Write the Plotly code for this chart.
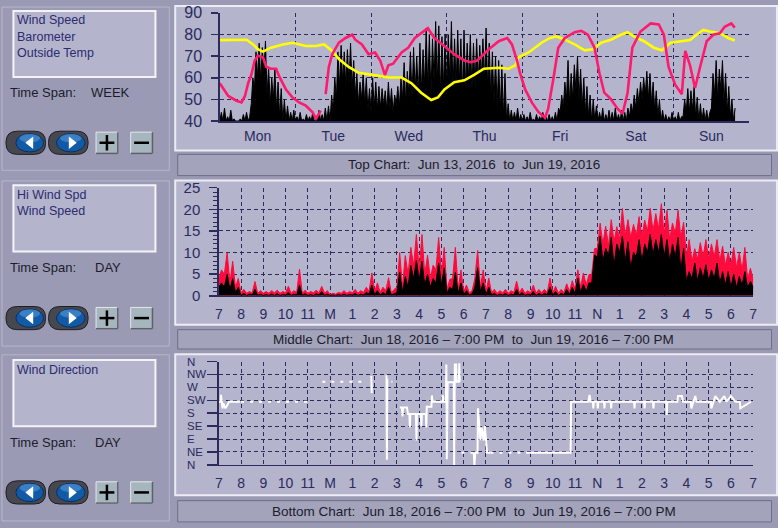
import plotly.graph_objects as go

W, H = 778, 528
def X(p): return p / W
def Y(p): return 1 - p / H

BG = "#9a9ab4"
FRAME = "#b4b4cc"
NAVY = "#2b2b5e"
FONT = "Liberation Sans"

# ---------------- Top chart (week) ----------------
day_labels = ["Mon", "Tue", "Wed", "Thu", "Fri", "Sat", "Sun"]
day_ticks = [12, 36, 60, 84, 108, 132, 156]
day_bounds = [24, 48, 72, 96, 120, 144, 168]
top_yticks = [40, 50, 60, 70, 80, 90]

baro_hours = [0, 5, 8.5, 10.6, 12.1, 13.7, 16.3, 20, 23.1, 27.3,
              30.5, 33.1, 35.7, 37.8, 40.9, 44.1, 48.2, 53.5, 57.7, 60.8,
              63.9, 67.1, 69.2, 71.3, 74.4, 77.6, 80.7, 83.8, 88.5, 91.7,
              93.8, 94.8, 98, 102.1, 104.8, 106.9, 109.5, 112.6, 115.8, 118.4,
              121, 124.1, 127.3, 129.4, 131.4, 134.6, 137.7, 140.3, 143, 146.1,
              149.2, 151.9, 153.4, 155.5, 158.7, 161.3, 163.4]
baro_vals = [77.4, 77.6, 77.6, 75.4, 73.2, 72.1, 73.9, 75.4, 76.2, 74.7,
             74.7, 75.4, 72.4, 68.7, 65, 62.3, 61.3, 60.2, 60.1, 57.5,
             53.1, 49.7, 50.9, 54.6, 57.9, 58.8, 61.3, 64.2, 64.6, 64.2,
             65.8, 69.5, 71.7, 76.2, 78.4, 79.1, 77.6, 75.4, 72.7, 73.2,
             76.2, 77.6, 79.9, 81.1, 79.1, 76.9, 73.9, 72.7, 76.2, 76.9,
             77.4, 80.6, 82.1, 81.4, 80.6, 78.4, 77.2]

temp_hours = [0, 1.2, 2.7, 5.3, 6.9, 8.0, 9.0, 10.0, 11.1, 12.1,
              13.7, 14.8, 16.3, 17.9, 18.9, 21.0, 23.1, 25.2, 27.3, 29.4,
              30.5, 31.5, 32.0, None, 33.6, 34.6, 35.7, 37.8, 39.9, 42.0,
              43.0, 45.1, 47.2, 49.3, 50.9, 52.4, 53.5, 55.0, 57.7, 59.8,
              61.9, 63.9, 66.0, 68.1, 71.3, 74.4, 77.6, 79.6, 81.7, 83.8,
              85.4, 88.5, 91.2, 92.7, 94.3, 95.3, 96.9, 99.0, 101.1, 103.2,
              104.2, 105.8, 107.4, 109.5, 112.6, 114.7, 116.8, 118.9, 120.5, 122.0,
              124.1, 126.2, 127.8, 129.4, 130.9, 133.5, 136.7, 139.3, 140.9, 142.4,
              144.5, 146.6, 147.7, 149.2, 150.8, 152.4, 154.5, 156.6, 158.7, 160.2,
              162.3, 163.4]
temp_vals = [57.5, 54.6, 51.6, 49.4, 48.6, 51.6, 57.5, 61.3, 68, 70.2,
             69.5, 65, 64.2, 64.2, 60.5, 54.6, 50.9, 48.6, 47.1, 44.2,
             41.2, 43.4, 44.9, None, 52.4, 65, 70.9, 76.2, 78.4, 79.9,
             77.6, 75.4, 70.9, 71.7, 68, 61.3, 65.8, 66.5, 71.7, 73.9,
             78.4, 80.6, 82.9, 78.4, 74.7, 70.9, 68, 67.2, 68, 70.9,
             73.2, 76.9, 78.4, 75.4, 68, 62, 54.6, 48.6, 44.2, 41.5,
             45.7, 59.1, 73.9, 78.4, 81.1, 81.7, 79.9, 73.9, 62, 53.1,
             50.1, 45.7, 43.4, 53.1, 73.9, 81.4, 85.1, 84.6, 79.9, 65,
             56.8, 52.4, 72.4, 65.8, 55.3, 65, 76.9, 79.9, 80.6, 83.6,
             85.1, 83.2]

# hourly wind-speed envelope (drawn on the same 40-90 scale)
wind_hi = [44, 46, 42, 45, 41, 40, 41, 43, 44, 42, 60, 72, 76, 74, 77, 65, 60, 64, 58, 55, 50, 47, 44, 45,
           42, 44, 41, 43, 42, 44, 41, 45, 43, 46, 47, 52, 60, 72, 75, 72, 73, 76, 68, 62, 58, 62, 60, 55,
           60, 58, 56, 55, 54, 58, 55, 52, 56, 60, 67, 63, 72, 74, 70, 76, 73, 83, 80, 78, 86, 84, 79, 80,
           80, 86, 78, 82, 78, 82, 76, 80, 76, 78, 75, 78, 83, 76, 72, 70, 68, 66, 62, 48, 45, 44, 46, 43,
           43, 42, 44, 41, 43, 42, 44, 42, 43, 42, 44, 46, 52, 58, 68, 62, 66, 70, 64, 60, 56, 52, 50, 47,
           44, 46, 43, 45, 44, 46, 43, 45, 44, 46, 48, 52, 55, 58, 60, 63, 62, 58, 54, 50, 45, 43, 42, 44,
           42, 44, 42, 50, 55, 54, 56, 51, 48, 46, 45, 44, 62, 68, 64, 68, 62, 56, 50, 46]
wind_lo = [40, 40, 40, 40, 40, 40, 40, 40, 40, 40, 48, 55, 60, 58, 62, 52, 48, 50, 45, 42, 40, 40, 40, 40,
           40, 40, 40, 40, 40, 40, 40, 40, 40, 40, 40, 40, 44, 50, 55, 58, 56, 57, 55, 52, 48, 50, 48, 45,
           44, 46, 45, 46, 47, 45, 46, 44, 48, 47, 50, 48, 52, 50, 54, 52, 54, 56, 55, 52, 58, 56, 52, 55,
           55, 58, 54, 56, 57, 52, 55, 58, 54, 56, 58, 60, 58, 55, 50, 48, 46, 44, 42, 40, 40, 40, 40, 40,
           40, 40, 40, 40, 40, 40, 40, 40, 40, 40, 40, 40, 44, 46, 50, 48, 50, 54, 50, 46, 44, 42, 40, 40,
           40, 40, 40, 40, 40, 40, 40, 40, 40, 40, 42, 44, 46, 48, 50, 52, 50, 48, 45, 42, 40, 40, 40, 40,
           40, 40, 40, 42, 44, 44, 45, 42, 40, 40, 40, 40, 46, 52, 50, 54, 48, 44, 42, 40]

# ---------------- Middle chart (day) ----------------
hour_ticks = list(range(25))
hour_labels = ["7", "8", "9", "10", "11", "M", "1", "2", "3", "4", "5", "6", "7", "8", "9", "10", "11",
               "N", "1", "2", "3", "4", "5", "6", "7"]
mid_yticks = [0, 5, 10, 15, 20, 25]

# quarter-hour slots: peak and trough of each slot (trough lists carry a final end value)
hiwind_peak = [6, 10, 8, 4, 1.5, 1.0, 3.3, 1.2, 1.0, 1.2, 1.3, 1.0,
               2.2, 1.2, 6.2, 1.3, 1.0, 1.3, 2.2, 1.2, 0.6, 0.8, 1.2, 1.0,
               1.5, 1.2, 2.0, 5.3, 3.0, 2.0, 4.2, 1.5, 10, 9.3, 11.2, 14.2,
               14.2, 9.4, 7.1, 13.5, 11.2, 3.8, 11.2, 6, 2.5, 1.2, 10.5, 6,
               4.1, 1.5, 1.2, 1.5, 1.2, 3.4, 1.8, 1.2, 2.5, 1.5, 1.5, 4.1,
               2.2, 1.5, 2.8, 3.5, 6.0, 5.3, 4.9, 10.9, 16.8, 16.1, 17.6, 16,
               20.2, 17.6, 16.5, 18.3, 17.5, 20.2, 19, 21.3, 19.8, 16.8, 19.8, 17,
               13, 10.9, 12.3, 13, 12, 13, 11.5, 10.1, 11.2, 10, 11.2, 6.4]
hiwind_trough = [4, 5, 3, 2, 0.7, 0.6, 0.7, 0.6, 0.6, 0.6, 0.7, 0.6,
                 0.7, 0.6, 0.8, 0.6, 0.6, 0.7, 0.7, 0.6, 0.3, 0.4, 0.6, 0.6,
                 0.7, 0.6, 0.8, 1.0, 1.0, 0.8, 1.2, 0.7, 2, 2, 5, 7,
                 6, 5, 4, 6, 5, 1.5, 4, 1.5, 1.0, 0.7, 4, 2,
                 1.0, 0.7, 0.6, 0.7, 0.6, 0.8, 0.7, 0.6, 0.7, 0.6, 0.7, 0.8,
                 0.7, 0.6, 0.8, 1.0, 1.5, 2.0, 2.5, 5, 11, 12, 11.6, 12.5,
                 13, 13.8, 13.5, 14, 13.5, 15, 15, 15.5, 14, 13, 14.5, 13.5,
                 9, 8, 8.5, 9, 8.5, 9, 8, 7, 7, 6.5, 6, 3.8, 3.8]
wind_peak = [3, 5, 4, 2, 0.6, 0.4, 1.5, 0.4, 0.3, 0.4, 0.5, 0.3,
             0.8, 0.4, 2.5, 0.5, 0.3, 0.5, 1.0, 0.4, 0.2, 0.3, 0.4, 0.3,
             0.6, 0.4, 0.8, 2.5, 1.2, 0.8, 2.0, 0.6, 5.5, 4.5, 7, 8.2,
             8, 5, 4, 7.6, 6.5, 2, 5.5, 3, 1.2, 0.5, 6.5, 3,
             2, 0.6, 0.4, 0.6, 0.4, 1.5, 0.8, 0.4, 1.0, 0.6, 0.6, 2.0,
             1.0, 0.6, 1.5, 2.0, 4.1, 2.7, 3.0, 9.4, 13.8, 11, 13.5, 12,
             13.8, 12.5, 10.1, 13, 12, 14.2, 13, 14.2, 13, 12, 13.5, 11,
             5.6, 7.6, 6.5, 7.2, 6, 7.6, 5.6, 5.6, 5, 4.5, 5.6, 3.4]
wind_trough = [2, 2, 1.5, 0.8, 0.1, 0.1, 0.2, 0.1, 0.1, 0.1, 0.1, 0.1,
               0.2, 0.1, 0.2, 0.1, 0.1, 0.1, 0.2, 0.1, 0.1, 0.1, 0.1, 0.1,
               0.2, 0.1, 0.2, 0.4, 0.3, 0.2, 0.3, 0.2, 0.8, 0.8, 2, 4,
               3.5, 2.5, 2, 3, 2.5, 0.6, 1.5, 0.6, 0.3, 0.2, 2, 1,
               0.3, 0.2, 0.1, 0.2, 0.1, 0.2, 0.2, 0.1, 0.2, 0.1, 0.2, 0.3,
               0.2, 0.1, 0.3, 0.4, 0.5, 0.8, 1.0, 3, 9, 8, 9.4, 7,
               10, 8, 6.4, 9, 8, 10, 9.5, 10, 9, 8, 9, 6,
               3.4, 4, 3.4, 4, 3.5, 4, 3, 2.5, 2, 1.9, 2.5, 1.9, 1.9]

# ---------------- Bottom chart (wind direction, degrees) ----------------
dir_ticks = [0, 45, 90, 135, 180, 225, 270, 315, 360]
dir_labels = ["N", "NE", "E", "SE", "S", "SW", "W", "NW", "N"]
dir_t = [0, 0.08, 0.1, 0.12, 0.17, 0.2, 0.3, 0.4, 0.45, 0.95, None,
         6.85, 6.87, None,
         7.53, 7.55, 7.57, None,
         7.75, 7.8, None,
         8.13, 8.22, 8.25, 8.28, 8.45, 8.5, 8.56, 8.58, 8.6, 8.85,
         8.88, 8.9, 9.08, 9.1, 9.12, 9.3, 9.32, 9.34, 9.4, 9.55,
         9.57, 9.6, 10.04, 10.06, 10.08,
         10.2, 10.22, 10.24, 10.28, 10.55, 10.57, 10.6, 10.66, 10.68, 10.78, 10.8, 10.82, None,
         11.45, 11.48, 11.52, 11.62, 11.64, 11.7, 11.75, 11.8, 11.85, 11.9, 11.95, 12.05, 12.2, None,
         13.8, 15.8, 15.82, 16.6, 16.65, 16.7, 16.8, 16.82, 16.84, 17.0,
         17.02, 17.04, 17.3, 17.32, 17.34, 17.6, 17.62, 17.64, 18.65, 18.67,
         18.69, 19.1, 19.12, 19.14, 19.5, 19.52, 19.54, 20.1, 20.12, 20.14,
         20.6, 20.62, 20.8, 20.85, 21.2, 21.22, 21.4, 21.45, 22.1, 22.12,
         22.3, 22.5, 22.7, 22.8, 23.0, 23.2, 23.4, 23.42, 23.9]
dir_v = [220, 220, 244, 220, 197, 215, 197, 210, 220, 220, None,
         310, 250, None,
         312, 18, 300, None,
         290, 290, None,
         200, 200, 169, 200, 200, 177, 177, 130, 177, 177,
         85, 177, 177, 135, 177, 177, 130, 203, 203, 203,
         242, 220, 220, 242, 220,
         220, 350, 20, 288, 288, 0, 350, 350, 290, 290, 354, 290, None,
         42, 0, 42, 42, 197, 120, 86, 130, 110, 85, 135, 42, 42, None,
         42, 42, 220, 220, 244, 220, 220, 197, 220, 220,
         197, 220, 220, 197, 220, 220, 197, 220, 220, 197,
         220, 220, 197, 220, 220, 197, 220, 220, 174, 220,
         220, 240, 240, 220, 220, 197, 240, 220, 220, 197,
         240, 220, 240, 220, 240, 220, 220, 197, 220]
dot_t = [1.0, 4.15, None, 4.65, 6.5, None, 10.9, 11.45, None, 12.2, 13.8]
dot_v = [220, 220, None, 290, 290, None, 42, 42, None, 42, 42]


def zigzag(step, peaks, troughs):
    xs, ys = [], []
    for i, p in enumerate(peaks):
        xs += [i * step, i * step + step / 2]
        ys += [troughs[i], p]
    if len(troughs) > len(peaks):
        xs.append(len(peaks) * step)
        ys.append(troughs[-1])
    return xs, ys


fig = go.Figure()
wx, wy = zigzag(1.0, wind_hi, wind_lo)
fig.add_trace(go.Scatter(x=wx, y=wy, mode="lines", fill="tozeroy", fillcolor="black",
                         line=dict(color="black", width=1), xaxis="x", yaxis="y", hoverinfo="skip"))
fig.add_trace(go.Scatter(x=baro_hours, y=baro_vals, mode="lines", line=dict(color="#ffff00", width=2.6),
                         xaxis="x", yaxis="y", hoverinfo="skip"))
fig.add_trace(go.Scatter(x=temp_hours, y=temp_vals, mode="lines", line=dict(color="#ff1a6e", width=2.6),
                         connectgaps=False, xaxis="x", yaxis="y", hoverinfo="skip"))

rx, ry = zigzag(0.25, hiwind_peak, hiwind_trough)
bx, by = zigzag(0.25, wind_peak, wind_trough)
fig.add_trace(go.Scatter(x=rx, y=ry, mode="lines", fill="tozeroy", fillcolor="#ff0a3c",
                         line=dict(color="#ff0a3c", width=1), xaxis="x2", yaxis="y2", hoverinfo="skip"))
fig.add_trace(go.Scatter(x=bx, y=by, mode="lines", fill="tozeroy", fillcolor="black",
                         line=dict(color="black", width=1), xaxis="x2", yaxis="y2", hoverinfo="skip"))

fig.add_trace(go.Scatter(x=dot_t, y=dot_v, mode="lines", line=dict(color="white", width=2, dash="3px,6px"),
                         xaxis="x3", yaxis="y3", hoverinfo="skip"))
fig.add_trace(go.Scatter(x=dir_t, y=dir_v, mode="lines", line=dict(color="white", width=2),
                         connectgaps=False, xaxis="x3", yaxis="y3", hoverinfo="skip"))

grid = dict(gridcolor=NAVY, griddash="4px,3px", gridwidth=1)
axline = dict(showline=True, linecolor=NAVY, linewidth=1.5, zeroline=False, fixedrange=True)

# ---------------- shapes ----------------
shapes = []
def rect(x0, y0, x1, y1, fill, line="rgba(0,0,0,0)", lw=1, layer="below"):
    shapes.append(dict(type="rect", xref="paper", yref="paper", x0=X(x0), x1=X(x1), y0=Y(y1), y1=Y(y0),
                       fillcolor=fill, line=dict(color=line, width=lw), layer=layer))

def seg(x0, y0, x1, y1, color, w):
    shapes.append(dict(type="line", xref="paper", yref="paper", x0=X(x0), x1=X(x1), y0=Y(y0), y1=Y(y1),
                       line=dict(color=color, width=w), layer="above"))

def rrect_path(x0, y0, x1, y1, r):
    return (f"M {X(x0+r)},{Y(y0)} L {X(x1-r)},{Y(y0)} Q {X(x1)},{Y(y0)} {X(x1)},{Y(y0+r)} "
            f"L {X(x1)},{Y(y1-r)} Q {X(x1)},{Y(y1)} {X(x1-r)},{Y(y1)} L {X(x0+r)},{Y(y1)} "
            f"Q {X(x0)},{Y(y1)} {X(x0)},{Y(y1-r)} L {X(x0)},{Y(y0+r)} Q {X(x0)},{Y(y0)} {X(x0+r)},{Y(y0)} Z")

def poly(pts, fill):
    d = "M " + " L ".join(f"{X(a)},{Y(b)}" for a, b in pts) + " Z"
    shapes.append(dict(type="path", xref="paper", yref="paper", path=d, fillcolor=fill,
                       line=dict(width=0), layer="above"))

def ellipse(x0, y0, x1, y1, fill, line):
    shapes.append(dict(type="circle", xref="paper", yref="paper", x0=X(x0), x1=X(x1), y0=Y(y1), y1=Y(y0),
                       fillcolor=fill, line=dict(color=line, width=1), layer="above"))

# left panels
for (y0, y1) in [(-2, 167), (178, 349), (358, 530)]:
    rect(-2, y0, 167, y1, BG, "#b6b6ca", 1)
# legend boxes
for (y0, y1) in [(2, 70.5), (182.5, 251), (363.5, 432)]:
    rect(9.5, y0, 153, y1, FRAME, "#f4f4f8", 2)
# chart frames
for (y0, y1) in [(-3, 146.5), (177.5, 327), (357.5, 503.5)]:
    rect(173, y0, 781, y1, FRAME, "#ececf4", 2)
# caption bars
for (y0, y1) in [(150.5, 172.5), (332, 352), (509, 531)]:
    rect(175.5, y0, 775.5, y1, "#a3a3bb", "#6e6e86", 1)

# buttons
for cy in [138.5, 320, 500.5]:
    for (px0, ex0, ex1, left) in [(2, 12, 40, True), (45, 53, 82, False)]:
        shapes.append(dict(type="path", xref="paper", yref="paper",
                           path=rrect_path(px0, cy - 12, px0 + 40, cy + 12, 11.5),
                           fillcolor="#474750", line=dict(color="#1e1e24", width=1), layer="above"))
        ellipse(ex0, cy - 9.5, ex1, cy + 9.5, "#125aa6", "#08305e")
        ellipse(ex0 + 4, cy - 8.5, ex1 - 4, cy - 1, "#3b7fc6", "#3b7fc6")
        if left:
            poly([(21.5, cy), (29.5, cy - 6.5), (29.5, cy + 6.5)], "white")
        else:
            poly([(73.5, cy), (65.5, cy - 6.5), (65.5, cy + 6.5)], "white")
    for bx0 in [93, 128]:
        rect(bx0, cy - 11, bx0 + 22, cy + 11, "#a6b6be", "#e6e6ea", 1, layer="above")
        seg(bx0 + 22, cy - 11, bx0 + 22, cy + 11, "#5e6068", 1.5)
        seg(bx0, cy + 11, bx0 + 22, cy + 11, "#5e6068", 1.5)
    seg(96.5, cy, 111.5, cy, "black", 2.5)
    seg(104, cy - 8, 104, cy + 8, "black", 2.5)
    seg(131.5, cy, 146.5, cy, "black", 2.5)

# ---------------- annotations ----------------
ann = []
def text(x, y, s, size=13, color="#1c1c2c", xanchor="left", **kw):
    ann.append(dict(x=X(x), y=Y(y), xref="paper", yref="paper", text=s, showarrow=False,
                    xanchor=xanchor, yanchor="middle", font=dict(family=FONT, size=size, color=color), **kw))

legend_color = "#2c2c70"
for s, yy in [("Wind Speed", 11.7), ("Barometer", 29), ("Outside Temp", 45.7),
              ("Hi Wind Spd", 192.3), ("Wind Speed", 209.3), ("Wind Direction", 373.3)]:
    text(11, yy, s, size=12.5, color=legend_color)
for yy, span, sx in [(86.7, "WEEK", 85.5), (267.7, "DAY", 90), (448.3, "DAY", 90)]:
    text(4, yy, "Time Span:", size=13)
    text(sx, yy, span, size=13)

sp = "\u00a0\u00a0"
text(474.5, 161.5, f"Top Chart:{sp}Jun 13, 2016{sp}to{sp}Jun 19, 2016", size=13.5, xanchor="center")
text(474.5, 342.5, f"Middle Chart:{sp}Jun 18, 2016 \u2013 7:00 PM{sp}to{sp}Jun 19, 2016 \u2013 7:00 PM",
     size=13.5, xanchor="center")
text(474.5, 520.5, f"Bottom Chart:{sp}Jun 18, 2016 \u2013 7:00 PM{sp}to{sp}Jun 19, 2016 \u2013 7:00 PM",
     size=13.5, xanchor="center")

for v, lab in zip(dir_ticks, dir_labels):
    ann.append(dict(x=X(183), y=v, xref="paper", yref="y3", text=lab, showarrow=False,
                    xanchor="left", yanchor="middle", font=dict(family=FONT, size=11.5, color=NAVY)))

fig.update_layout(
    width=W, height=H, autosize=False, margin=dict(l=0, r=0, t=0, b=0),
    paper_bgcolor=BG, plot_bgcolor=FRAME, showlegend=False,
    font=dict(family=FONT, color=NAVY),
    xaxis=dict(domain=[X(218), X(753)], range=[0, 168], anchor="y", tickmode="array",
               tickvals=day_ticks, ticktext=day_labels, ticks="", showgrid=False,
               tickfont=dict(family=FONT, size=14, color=NAVY), ticklabelstandoff=2,
               minor=dict(tickmode="array", tickvals=day_bounds, showgrid=True, ticks="", **grid),
               **axline),
    yaxis=dict(domain=[Y(116), Y(4)], range=[40, 90], anchor="x", tickmode="array", tickvals=top_yticks,
               ticks="outside", ticklen=7, tickwidth=1.5, tickcolor=NAVY, showgrid=True, **grid,
               tickfont=dict(family=FONT, size=16, color=NAVY), ticklabelstandoff=6, **axline),
    xaxis2=dict(domain=[X(217), X(757)], range=[0, 24], anchor="y2", tickmode="array",
                tickvals=hour_ticks, ticktext=hour_labels, ticks="", showgrid=True, **grid,
                tickfont=dict(family=FONT, size=14, color=NAVY), ticklabelstandoff=5, **axline),
    yaxis2=dict(domain=[Y(297), Y(185)], range=[0, 25], anchor="x2", tickmode="array", tickvals=mid_yticks,
                ticks="outside", ticklen=8, tickwidth=1.5, tickcolor=NAVY, showgrid=True, **grid,
                minor=dict(tickmode="linear", tick0=0, dtick=1, ticks="outside", ticklen=4,
                           tickcolor=NAVY, tickwidth=1, showgrid=False),
                tickfont=dict(family=FONT, size=15, color=NAVY), ticklabelstandoff=6, **axline),
    xaxis3=dict(domain=[X(217), X(757)], range=[0, 24], anchor="y3", tickmode="array",
                tickvals=hour_ticks, ticktext=hour_labels, ticks="", showgrid=True, **grid,
                tickfont=dict(family=FONT, size=14, color=NAVY), ticklabelstandoff=5, **axline),
    yaxis3=dict(domain=[Y(472), Y(365)], range=[0, 360], anchor="x3", tickmode="array", tickvals=dir_ticks,
                showticklabels=False, ticks="outside", ticklen=10, tickwidth=1.5, tickcolor=NAVY,
                showgrid=True, **grid, **axline),
    shapes=shapes, annotations=ann,
)

fig.write_html("out.html", config={"displayModeBar": False, "staticPlot": True},
               post_script=("document.documentElement.style.margin='0px';"
                            "document.documentElement.style.padding='0px';"
                            "document.documentElement.style.overflow='hidden';"
                            "document.documentElement.style.background='#9a9ab4';"
                            "document.body.style.margin='0px';"
                            "document.body.style.padding='0px';"
                            "document.body.style.overflow='hidden';"
                            "document.body.style.background='#9a9ab4';"))
